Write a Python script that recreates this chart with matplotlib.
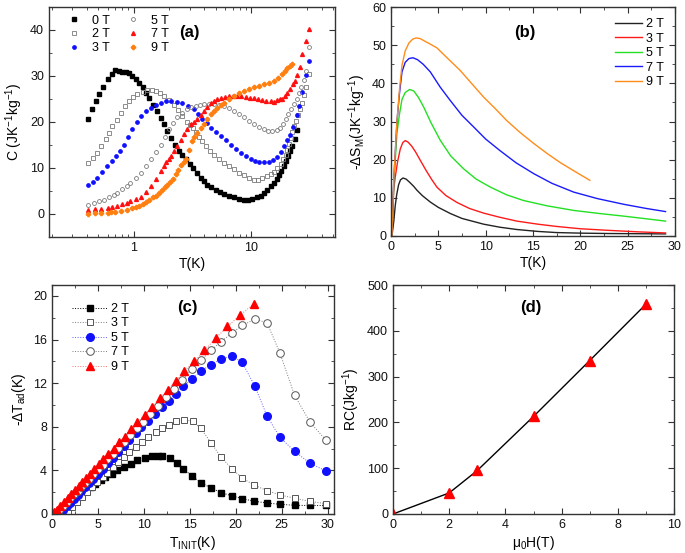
import matplotlib
matplotlib.use('Agg')
import matplotlib.pyplot as plt
from matplotlib.ticker import MultipleLocator, LogLocator, NullFormatter, FixedLocator, FixedFormatter

plt.rcParams['font.family'] = ['Liberation Sans', 'DejaVu Sans']
plt.rcParams['mathtext.fontset'] = 'custom'
plt.rcParams['mathtext.rm'] = 'Liberation Sans'
plt.rcParams['mathtext.it'] = 'Liberation Sans:italic'
plt.rcParams['font.size'] = 9

# ---------------- (a) heat capacity ----------------
a_T0 = [0.41, 0.44, 0.48, 0.51, 0.55, 0.60, 0.65, 0.70, 0.75, 0.80, 0.86, 0.91, 0.97, 1.04, 1.11,
        1.19, 1.27, 1.35, 1.47, 1.59, 1.70, 1.81, 1.94, 2.07, 2.25, 2.43, 2.60, 2.77, 3.0, 3.23,
        3.45, 3.72, 4.0, 4.25, 4.6, 5.0, 5.4, 5.89, 6.5, 7.17, 7.9, 8.72, 9.5, 10.3, 11.2, 12.1,
        13.0, 13.8, 14.7, 15.7, 16.5, 17.3, 18.2, 19.1, 19.9, 20.7, 21.6, 22.5, 23.5, 24.5]
a_C0 = [20.7, 22.8, 24.5, 26.0, 27.7, 29.3, 30.4, 31.4, 31.1, 30.9, 30.8, 30.6, 30.0, 29.3, 28.5,
        27.5, 26.4, 25.3, 23.8, 22.4, 20.9, 19.5, 18.0, 16.6, 15.1, 13.7, 12.8, 11.9, 10.8, 9.9,
        8.9, 7.9, 7.1, 6.4, 5.8, 5.3, 4.8, 4.4, 4.0, 3.6, 3.3, 3.1, 3.1, 3.3, 3.6, 4.0,
        4.6, 5.2, 6.0, 6.8, 7.6, 8.4, 9.4, 10.4, 11.5, 12.6, 13.7, 14.8, 16.4, 18.2]

a_T2 = [0.41, 0.45, 0.49, 0.53, 0.577, 0.62, 0.658, 0.72, 0.775, 0.84, 0.91, 0.99, 1.07, 1.19,
        1.31, 1.42, 1.54, 1.67, 1.81, 2.0, 2.2, 2.4, 2.6, 2.85, 3.05, 3.23, 3.4, 3.6, 3.85, 4.11,
        4.45, 4.84, 5.3, 5.89, 6.5, 7.17, 7.9, 8.72, 9.6, 10.6, 11.5, 12.5, 13.6, 14.7, 15.7,
        16.8, 17.9, 18.9, 19.7, 20.4, 21.1, 21.8, 22.5, 23.3, 24.2, 25.0, 26.2, 27.4, 28.3,
        29.3, 31.0]
a_C2 = [11.1, 12.2, 13.3, 14.7, 16.2, 17.6, 19.1, 20.5, 22.0, 23.4, 24.6, 25.4, 26.0, 26.6,
        27.0, 27.0, 26.8, 26.3, 25.7, 24.7, 23.6, 22.5, 21.2, 20.0, 19.4, 18.8, 17.8, 16.8, 15.8,
        14.8, 13.8, 12.9, 12.0, 11.1, 10.4, 9.7, 9.0, 8.4, 7.9, 7.5, 7.5, 7.9, 8.2, 8.6, 9.2,
        10.0, 10.9, 11.9, 12.9, 14.0, 15.3, 16.6, 17.8, 19.1, 20.3, 21.5, 22.8, 24.2, 25.8,
        27.5, 30.5]

a_T3 = [0.41, 0.45, 0.49, 0.54, 0.597, 0.65, 0.703, 0.76, 0.827, 0.90, 0.975, 1.06, 1.15, 1.27,
        1.40, 1.55, 1.70, 1.88, 2.07, 2.32, 2.60, 2.92, 3.27, 3.55, 3.85, 4.18, 4.53, 5.0, 5.52,
        6.1, 6.7, 7.4, 8.17, 9.0, 9.95, 10.8, 11.7, 12.9, 14.2, 15.5, 16.8, 18.0, 19.1, 20.3,
        21.4, 22.8, 24.5, 25.5, 27.4, 29.3, 31.0]
a_C3 = [6.2, 7.0, 7.9, 9.1, 10.4, 11.5, 12.6, 13.8, 15.1, 16.8, 18.4, 19.9, 21.3, 22.3,
        23.1, 23.8, 24.2, 24.5, 24.6, 24.4, 24.1, 23.5, 22.8, 21.8, 20.6, 19.7, 18.8, 17.8, 16.9,
        16.0, 15.1, 14.2, 13.3, 12.6, 11.9, 11.5, 11.3, 11.2, 11.3, 11.8, 12.4, 13.5, 14.8, 16.0,
        17.1, 19.0, 21.5, 23.5, 26.5, 30.2, 33.2]

a_T5 = [0.41, 0.46, 0.51, 0.558, 0.62, 0.68, 0.726, 0.80, 0.87, 0.94, 1.04, 1.15, 1.27, 1.40,
        1.55, 1.70, 1.85, 2.0, 2.18, 2.36, 2.6, 2.87, 3.1, 3.38, 3.65, 3.98, 4.4, 4.84, 5.35,
        5.89, 6.5, 7.17, 7.9, 8.72, 9.6, 10.6, 11.7, 12.9, 14.0, 15.2, 16.5, 17.7, 18.8, 19.8,
        20.8, 21.8, 23.1, 24.5, 25.7, 26.9, 28.1, 29.3, 31.0]
a_C5 = [2.0, 2.4, 2.8, 3.1, 3.6, 4.2, 4.6, 5.4, 6.1, 6.8, 7.9, 9.0, 10.4, 11.9,
        13.5, 15.1, 16.8, 18.4, 19.7, 21.0, 22.0, 22.8, 23.2, 23.4, 23.6, 23.9, 24.0, 23.9, 23.7,
        23.4, 23.0, 22.4, 21.7, 21.0, 20.3, 19.5, 18.9, 18.4, 18.1, 18.0, 18.2, 18.8, 19.6, 20.6,
        21.7, 22.8, 23.9, 25.0, 26.2, 27.5, 29.2, 31.1, 36.3]

a_T7 = [0.41, 0.47, 0.53, 0.6, 0.66, 0.726, 0.8, 0.87, 0.94, 1.04, 1.15, 1.27, 1.40, 1.55, 1.70,
        1.81, 1.9, 2.0, 2.07, 2.2, 2.36, 2.52, 2.69, 2.87, 3.06, 3.25, 3.49, 3.72, 3.98, 4.25,
        4.53, 4.85, 5.17, 5.55, 6.0, 6.5, 7.0, 7.6, 8.3, 9.0, 9.8, 10.6, 11.5, 12.5, 13.5, 14.7,
        15.8, 16.8, 17.7, 18.5, 19.5, 20.4, 21.5, 22.7, 23.6, 24.5, 26.0, 27.4, 29.2, 31.0]
a_C7 = [0.94, 1.05, 1.15, 1.3, 1.5, 1.7, 2.1, 2.4, 2.75, 3.2, 3.8, 4.8, 6.0, 7.6, 9.3,
        10.4, 11.2, 11.9, 12.6, 13.7, 14.8, 16.0, 17.3, 18.4, 19.5, 20.0, 20.6, 21.5, 22.4, 23.3,
        24.1, 24.6, 25.0, 25.2, 25.4, 25.6, 25.7, 25.7, 25.6, 25.5, 25.3, 25.2, 25.0, 24.8, 24.6,
        24.5, 24.4, 24.8, 24.9, 25.1, 25.6, 26.4, 27.2, 28.2, 29.0, 30.2, 32.0, 34.8, 37.5, 40.2]

a_T9 = [0.41, 0.47, 0.53, 0.6, 0.637, 0.7, 0.78, 0.883, 0.97, 1.04, 1.11, 1.2, 1.27, 1.35, 1.45,
        1.55, 1.64, 1.75, 1.85, 1.94, 2.05, 2.15, 2.28, 2.4, 2.55, 2.69, 2.77, 2.95, 3.16, 3.3,
        3.49, 3.72, 3.98, 4.25, 4.53, 4.85, 5.17, 5.5, 5.89, 6.5, 7.17, 7.9, 8.72, 9.6, 10.6,
        11.7, 12.9, 14.2, 15.7, 17.0, 18.5, 19.4, 20.4, 21.5, 22.5]
a_C9 = [0.1, 0.15, 0.2, 0.3, 0.35, 0.5, 0.7, 0.9, 1.2, 1.5, 1.8, 2.2, 2.6, 3.1, 3.6,
        4.0, 4.6, 5.2, 5.8, 6.4, 7.0, 7.6, 8.6, 9.5, 10.6, 11.4, 12.0, 14.0, 15.9, 16.8,
        17.7, 18.6, 19.5, 20.6, 21.7, 22.4, 23.1, 23.7, 24.2, 24.9, 25.7, 26.3, 26.8, 27.2, 27.5,
        27.9, 28.2, 28.5, 29.0, 29.6, 30.4, 31.0, 31.7, 32.2, 32.7]

# ---------------- (b) -dS_M ----------------
b_T2 = [0.1, 0.3, 0.45, 0.6, 0.8, 1.0, 1.27, 1.6, 2.0, 2.4, 2.74, 3.3, 4.15, 5.0, 6.26, 7.5,
        9.78, 11.5, 13.3, 15.5, 17.5, 20.0, 23.0, 26.0, 29.0]
b_S2 = [0.0, 4.0, 8.0, 10.8, 13.4, 14.7, 15.2, 14.9, 14.0, 13.0, 12.0, 10.6, 8.9, 7.5, 5.9, 4.6,
        3.1, 2.3, 1.7, 1.2, 0.9, 0.75, 0.65, 0.6, 0.55]
b_T3 = [0.1, 0.28, 0.45, 0.7, 0.98, 1.25, 1.51, 1.8, 2.2, 2.6, 3.1, 3.7, 4.3, 4.85, 5.8, 6.96,
        8.3, 9.78, 11.5, 13.3, 15.5, 17.5, 20.0, 22.8, 26.0, 29.0]
b_S3 = [0.0, 12.0, 15.5, 19.5, 22.8, 24.5, 25.0, 24.6, 23.5, 22.0, 19.8, 17.2, 14.8, 12.8, 10.6, 8.8,
        7.2, 6.0, 4.9, 3.9, 3.1, 2.5, 1.9, 1.5, 1.1, 0.8]
b_T5 = [0.1, 0.3, 0.63, 0.9, 1.16, 1.5, 1.97, 2.4, 2.9, 3.45, 4.2, 5.2, 6.3, 7.67, 9.0, 10.5,
        12.2, 14.0, 16.5, 19.3, 22.0, 24.6, 27.0, 29.0]
b_S5 = [0.0, 14.0, 27.0, 32.0, 35.8, 37.6, 38.4, 38.0, 36.3, 33.8, 29.8, 25.1, 21.0, 17.6, 14.9, 12.8,
        10.8, 9.3, 7.9, 6.7, 5.9, 5.2, 4.5, 3.9]
b_T7 = [0.1, 0.3, 0.63, 0.9, 1.16, 1.5, 1.9, 2.32, 2.8, 3.4, 4.15, 5.2, 6.26, 7.5, 8.72, 10.0,
        11.5, 13.2, 15.1, 17.0, 19.3, 21.8, 24.6, 27.0, 29.0]
b_S7 = [0.0, 15.0, 30.0, 37.5, 43.0, 45.5, 46.5, 46.7, 46.2, 45.0, 43.0, 39.0, 35.5, 31.6, 28.6, 25.4,
        22.4, 19.2, 16.3, 13.8, 11.5, 9.8, 8.3, 7.2, 6.4]
b_T9 = [0.1, 0.3, 0.63, 0.9, 1.16, 1.5, 1.9, 2.3, 2.67, 3.1, 3.6, 4.2, 4.85, 6.0, 7.3, 8.5,
        9.78, 11.0, 12.2, 13.6, 15.1, 16.5, 17.9, 19.5, 21.0]
b_S9 = [0.0, 15.0, 30.0, 38.5, 44.7, 48.5, 50.6, 51.6, 51.9, 51.7, 51.0, 50.2, 49.3, 46.5, 43.4, 40.0,
        36.4, 33.4, 30.3, 27.2, 24.2, 21.6, 19.2, 16.8, 14.6]

# ---------------- (c) -dT_ad ----------------
c_T2 = [0.8, 1.05, 1.5, 2.0, 2.6, 3.1, 3.7, 4.2, 4.7, 5.3, 5.8, 6.5, 7.1, 7.8, 8.55, 9.3, 10.1,
        10.9, 11.5, 12.0, 12.9, 13.6, 14.3, 15.2, 16.2, 17.3, 18.4, 19.6, 20.7, 22.0, 23.4,
        24.8, 26.4, 28.1, 29.8]
c_D2 = [0.0, 0.07, 0.4, 0.78, 1.24, 1.7, 2.07, 2.47, 2.77, 3.08, 3.39, 3.69, 4.0, 4.31, 4.62, 4.93,
        5.14, 5.33, 5.35, 5.33, 5.1, 4.7, 4.16, 3.49, 2.88, 2.39, 1.96, 1.66, 1.41, 1.17, 1.01,
        0.89, 0.8, 0.78, 0.78]
c_T3 = [1.2, 1.7, 2.2, 2.75, 3.3, 3.85, 4.4, 4.9, 5.5, 6.0, 6.6, 7.2, 7.8, 8.4, 9.1, 9.8, 10.5,
        11.3, 12.0, 12.7, 13.5, 14.4, 15.3, 16.2, 17.3, 18.4, 19.6, 20.7, 22.0, 23.4, 24.8,
        26.4, 28.1, 29.8]
c_D3 = [0.0, 0.25, 0.65, 1.1, 1.55, 2.0, 2.45, 2.9, 3.35, 3.8, 4.3, 4.75, 5.2, 5.7, 6.15, 6.6, 7.05,
        7.5, 7.85, 8.2, 8.5, 8.65, 8.5, 7.85, 6.55, 5.2, 4.15, 3.3, 2.65, 2.15, 1.75,
        1.45, 1.15, 0.95]
c_T5 = [0.8, 1.2, 1.6, 2.0, 2.4, 2.8, 3.2, 3.6, 4.0, 4.5, 5.0, 5.5, 6.1, 6.6, 7.2, 7.8, 8.4, 9.1,
        9.7, 10.5, 11.2, 12.0, 12.7, 13.5, 14.3, 15.2, 16.2, 17.3, 18.4, 19.6, 20.7, 22.1, 23.4,
        24.8, 26.4, 28.1, 29.8]
c_D5 = [0.05, 0.35, 0.7, 1.05, 1.4, 1.75, 2.1, 2.45, 2.8, 3.25, 3.7, 4.15, 4.7, 5.15, 5.7, 6.25,
        6.8, 7.4, 7.95, 8.55, 9.15, 9.8, 10.4, 11.05, 11.7, 12.35, 13.1, 13.7, 14.2, 14.5, 13.9,
        11.7, 9.0, 7.05, 5.75, 4.65, 3.95]
c_T7 = [0.4, 0.8, 1.2, 1.6, 2.0, 2.4, 2.8, 3.2, 3.6, 4.0, 4.5, 5.0, 5.5, 6.0, 6.6, 7.2, 7.8, 8.5,
        9.2, 9.9, 10.7, 11.5, 12.4, 13.3, 14.2, 15.2, 16.2, 17.3, 18.4, 19.6, 20.7, 22.1, 23.4,
        24.8, 26.4, 28.1, 29.8]
c_D7 = [0.1, 0.4, 0.75, 1.1, 1.45, 1.8, 2.15, 2.5, 2.85, 3.2, 3.65, 4.1, 4.5, 5.0, 5.5, 6.05,
        6.6, 7.2, 7.85, 8.45, 9.2, 9.9, 10.7, 11.5, 12.3, 13.3, 14.1, 15.0, 15.8, 16.6, 17.3,
        17.85, 17.55, 14.8, 10.9, 8.4, 6.8]
c_T9 = [0.2, 0.5, 0.9, 1.3, 1.7, 2.1, 2.5, 2.9, 3.3, 3.7, 4.1, 4.6, 5.1, 5.6, 6.1, 6.7, 7.3, 7.9,
        8.6, 9.3, 10.1, 10.9, 11.8, 12.6, 13.5, 14.4, 15.5, 16.6, 17.8, 19.1, 20.5, 22.0]
c_D9 = [0.15, 0.4, 0.75, 1.1, 1.5, 1.85, 2.2, 2.55, 2.9, 3.3, 3.65, 4.1, 4.55, 5.0, 5.5, 6.0, 6.6,
        7.1, 7.8, 8.4, 9.1, 9.8, 10.6, 11.4, 12.2, 13.1, 14.0, 15.0, 16.1, 17.2, 18.25, 19.3]

# ---------------- (d) RC ----------------
d_H = [0, 2, 3, 5, 7, 9]
d_RC = [0, 46, 95, 213, 335, 458]

W, H = 685, 553
fig = plt.figure(figsize=(W / 100, H / 100), dpi=100, facecolor='w')


def box(l, t, r, b):
    return fig.add_axes([l / W, 1 - b / H, (r - l) / W, (b - t) / H])


def style(ax):
    for s in ax.spines.values():
        s.set_color('#333333')
        s.set_linewidth(1.0)
    ax.tick_params(which='both', direction='in', top=True, right=True, colors='#333333',
                   labelcolor='#111111', labelsize=9)
    ax.tick_params(which='major', length=4)
    ax.tick_params(which='minor', length=2)


gray = '#7a7a7a'

# (a)
ax = box(49, 7, 335, 237)
ax.plot(a_T0, a_C0, 's', ms=2.2, color='black', label='0 T')
ax.plot(a_T2, a_C2, 's', ms=2.6, mfc='none', mec=gray, mew=0.6, label='2 T')
ax.plot(a_T3, a_C3, 'o', ms=2.4, color='#1010ff', label='3 T')
ax.plot(a_T5, a_C5, 'o', ms=2.8, mfc='none', mec=gray, mew=0.6, label='5 T')
ax.plot(a_T7, a_C7, '^', ms=2.8, color='#ff1010', label='7 T')
ax.plot(a_T9, a_C9, 'P', ms=3.0, color='#ff8010', label='9 T')
ax.set_xscale('log')
ax.set_xlim(0.19, 52)
ax.set_ylim(-5, 45)
ax.xaxis.set_major_locator(FixedLocator([1, 10]))
ax.xaxis.set_major_formatter(FixedFormatter(['1', '10']))
ax.xaxis.set_minor_locator(LogLocator(base=10, subs=range(2, 10)))
ax.xaxis.set_minor_formatter(NullFormatter())
ax.yaxis.set_major_locator(MultipleLocator(10))
ax.yaxis.set_minor_locator(MultipleLocator(5))
style(ax)
ax.set_xlabel('T(K)', fontsize=10, labelpad=2)
ax.set_ylabel('C (JK$^\\mathregular{-1}$kg$^\\mathregular{-1}$)', fontsize=10, labelpad=4)
ax.text(0.49, 0.89, '(a)', transform=ax.transAxes, fontsize=12, fontweight='bold', ha='center', va='center')
ax.legend(loc='upper left', ncol=2, frameon=False, fontsize=9, handlelength=1.0, handletextpad=0.9,
          columnspacing=1.4, labelspacing=0.15, borderaxespad=0.2, markerscale=1.0,
          bbox_to_anchor=(0.04, 1.0))

# (b)
ax = box(391, 7, 675, 236)
ax.plot(b_T2, b_S2, '-', lw=1.0, color='#222222', label='2 T')
ax.plot(b_T3, b_S3, '-', lw=1.0, color='#ff1a1a', label='3 T')
ax.plot(b_T5, b_S5, '-', lw=1.0, color='#22e022', label='5 T')
ax.plot(b_T7, b_S7, '-', lw=1.0, color='#1a1aff', label='7 T')
ax.plot(b_T9, b_S9, '-', lw=1.0, color='#ff8c1a', label='9 T')
ax.set_xlim(0, 30)
ax.set_ylim(0, 60)
ax.xaxis.set_major_locator(MultipleLocator(5))
ax.xaxis.set_minor_locator(MultipleLocator(2.5))
ax.yaxis.set_major_locator(MultipleLocator(10))
ax.yaxis.set_minor_locator(MultipleLocator(5))
style(ax)
ax.set_xlabel('T(K)', fontsize=10, labelpad=2)
ax.set_ylabel('-\u0394S$_\\mathregular{M}$(JK$^\\mathregular{-1}$kg$^\\mathregular{-1}$)', fontsize=10, labelpad=3)
ax.text(0.47, 0.89, '(b)', transform=ax.transAxes, fontsize=12, fontweight='bold', ha='center', va='center')
ax.legend(loc='upper right', frameon=False, fontsize=9, handlelength=2.2, handletextpad=0.3,
          labelspacing=0.2, borderaxespad=0.5)

# (c)
ax = box(52, 285, 334, 514)
ax.plot(c_T2, c_D2, 's:', ms=4.8, lw=0.7, color='black', mec='black', label='2 T')
ax.plot(c_T3, c_D3, 's:', ms=5.0, lw=0.7, color=gray, mfc='white', mec='#555555', mew=0.7, label='3 T')
ax.plot(c_T5, c_D5, 'o:', ms=5.5, lw=0.7, color='#6060ff', mfc='#1010ff', mec='#1010ff', label='5 T')
ax.plot(c_T7, c_D7, 'o:', ms=5.5, lw=0.7, color=gray, mfc='white', mec='#555555', mew=0.7, label='7 T')
ax.plot(c_T9, c_D9, '^:', ms=6.0, lw=0.7, color='#ff7070', mfc='#ff0000', mec='#ff0000', label='9 T')
ax.set_xlim(0, 30.7)
ax.set_ylim(0, 21)
ax.xaxis.set_major_locator(MultipleLocator(5))
ax.xaxis.set_minor_locator(MultipleLocator(2.5))
ax.yaxis.set_major_locator(MultipleLocator(4))
ax.yaxis.set_minor_locator(MultipleLocator(2))
style(ax)
ax.set_xlabel('T$_\\mathregular{INIT}$(K)', fontsize=10, labelpad=2)
ax.set_ylabel('-\u0394T$_\\mathregular{ad}$(K)', fontsize=10, labelpad=4)
ax.text(0.48, 0.90, '(c)', transform=ax.transAxes, fontsize=12, fontweight='bold', ha='center', va='center')
ax.legend(loc='upper left', frameon=False, fontsize=9, handlelength=2.8, handletextpad=0.3,
          labelspacing=0.2, borderaxespad=0.3, bbox_to_anchor=(0.04, 0.96))

# (d)
ax = box(393, 285, 674, 514)
ax.plot(d_H, d_RC, '-', lw=1.0, color='black')
ax.plot(d_H, d_RC, '^', ms=7, color='#ff0000')
ax.set_xlim(0, 10)
ax.set_ylim(0, 500)
ax.xaxis.set_major_locator(MultipleLocator(2))
ax.xaxis.set_minor_locator(MultipleLocator(1))
ax.yaxis.set_major_locator(MultipleLocator(100))
ax.yaxis.set_minor_locator(MultipleLocator(50))
style(ax)
ax.set_xlabel('\u03bc$_\\mathregular{0}$H(T)', fontsize=10, labelpad=2)
ax.set_ylabel('RC(Jkg$^\\mathregular{-1}$)', fontsize=10, labelpad=4)
ax.text(0.49, 0.90, '(d)', transform=ax.transAxes, fontsize=12, fontweight='bold', ha='center', va='center')

fig.savefig('out.png', dpi=100)
